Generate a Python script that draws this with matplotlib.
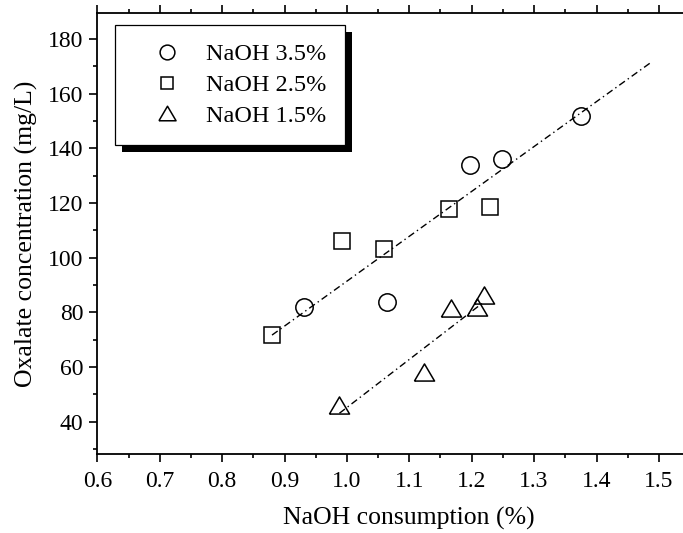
import numpy as np
import matplotlib
matplotlib.use("Agg")
import matplotlib.pyplot as plt
from matplotlib.patches import Rectangle

plt.rcParams["font.family"] = ["Liberation Serif", "DejaVu Serif"]

# --- data ---
naoh35_x = [0.932, 1.065, 1.198, 1.248, 1.375]
naoh35_y = [81.9, 83.8, 133.8, 136.0, 152.0]

naoh25_x = [0.880, 0.992, 1.059, 1.163, 1.230]
naoh25_y = [71.7, 106.1, 103.1, 117.8, 118.7]

naoh15_x = [0.988, 1.124, 1.167, 1.208, 1.219]
naoh15_y = [46.1, 58.3, 81.7, 81.9, 86.4]

# dash-dot trend lines (end points)
upper_fit_x = [0.880, 1.489]
upper_fit_y = [71.7, 171.7]
lower_fit_x = [0.988, 1.219]
lower_fit_y = [43.1, 83.7]

x_ticks = [0.6, 0.7, 0.8, 0.9, 1.0, 1.1, 1.2, 1.3, 1.4, 1.5]
y_ticks = [40, 60, 80, 100, 120, 140, 160, 180]

W, H = 683, 533
fig = plt.figure(figsize=(W / 100, H / 100), dpi=100)
# right spine lies just outside the picture, as in the cropped original
ax = fig.add_axes([97.3 / W, 1 - 454 / H, (721.3 - 97.3) / W, (454 - 13) / H])

tri = [(-1, -0.85), (1, -0.85), (0, 0.85), (-1, -0.85)]
mk = dict(linestyle="none", markerfacecolor="none", markeredgecolor="black",
          markeredgewidth=1.1, zorder=3)
ax.plot(naoh35_x, naoh35_y, marker="o", markersize=12.5, label="NaOH 3.5%", **mk)
ax.plot(naoh25_x, naoh25_y, marker="s", markersize=11.0, label="NaOH 2.5%", **mk)
ax.plot(naoh15_x, naoh15_y, marker=tri, markersize=14.5, label="NaOH 1.5%", **mk)

dash = (0, (5, 2.5, 1, 2.5))
ax.plot(upper_fit_x, upper_fit_y, color="black", lw=1.0, linestyle=dash, zorder=2)
ax.plot(lower_fit_x, lower_fit_y, color="black", lw=1.0, linestyle=dash, zorder=2)

ax.set_xlim(0.6, 1.6)
ax.set_ylim(28.2, 189.5)
ax.set_xticks(x_ticks)
ax.set_xticklabels([f"{v:.1f}" for v in x_ticks])
ax.set_yticks(y_ticks)
ax.set_xticks(np.arange(0.65, 1.6, 0.1), minor=True)
ax.set_yticks(np.arange(30, 190, 20), minor=True)

for s in ax.spines.values():
    s.set_linewidth(1.3)
ax.tick_params(which="major", direction="out", length=6, width=1.2, labelsize=17)
ax.tick_params(axis="x", which="major", pad=6)
ax.tick_params(axis="y", which="major", pad=4)
ax.tick_params(which="minor", direction="out", length=3, width=1.2)
ax.tick_params(axis="x", which="both", top=True)

ax.set_xlabel("NaOH consumption (%)", fontsize=18.5, labelpad=11)
ax.set_ylabel("Oxalate concentration (mg/L)", fontsize=18.5, labelpad=7)

leg = ax.legend(loc="upper left", bbox_to_anchor=(115 / W, 1 - 25 / H),
                bbox_transform=fig.transFigure, borderaxespad=0,
                prop={"size": 17.5}, frameon=True, fancybox=False, shadow=False,
                borderpad=0.75, handletextpad=0.2, labelspacing=0.36,
                handlelength=2.8, markerscale=0.85)
frame = leg.get_frame()
frame.set_edgecolor("black")
frame.set_linewidth(0.9)
frame.set_alpha(1)

fig.canvas.draw()
bb = leg.get_window_extent()
shadow = Rectangle((bb.x0 + 7, bb.y0 - 7), bb.width, bb.height, transform=None,
                   facecolor="black", edgecolor="none", zorder=4.5)
ax.add_artist(shadow)
leg.set_zorder(5)

fig.savefig("out.png", dpi=100)
